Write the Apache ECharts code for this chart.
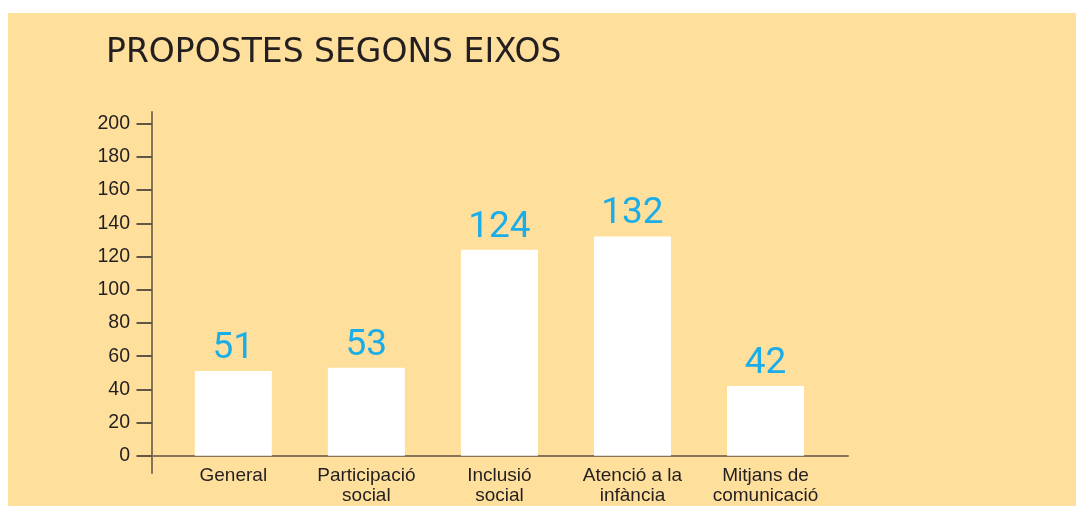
<!DOCTYPE html>
<html>
<head>
<meta charset="utf-8">
<script src="https://cdn.jsdelivr.net/npm/echarts@6/dist/echarts.min.js"></script>
<style>
  html, body { margin: 0; padding: 0; background: #fff; }
  #panel { position: absolute; left: 8px; top: 13px; right: 0; bottom: 0; background: #fedf9c; }
  #chart { position: absolute; left: 0; top: 0; width: 1076px; height: 506px; }
</style>
</head>
<body>
<div id="panel"></div>
<div id="chart"></div>
<script>
const categories = ['General', 'Participació\nsocial', 'Inclusió\nsocial', 'Atenció a la\ninfància', 'Mitjans de\ncomunicació'];
const values = [51, 53, 124, 132, 42];
const yTicks = [0, 20, 40, 60, 80, 100, 120, 140, 160, 180, 200];
const catIndex = categories.map((c, i) => i);

const chart = echarts.init(document.getElementById('chart'), null, { renderer: 'canvas' });

const option = {
  backgroundColor: 'transparent',
  animation: false,
  title: {
    text: 'PROPOSTES SEGONS EIXOS',
    left: 106,
    top: 37,
    padding: 0,
    textStyle: { fontFamily: 'DejaVu Sans', fontSize: 33, fontWeight: 'normal', color: '#231f20' }
  },
  grid: { left: 151.5, top: 112, width: 696.5, height: 361, containLabel: false, outerBoundsMode: 'none' },
  xAxis: {
    type: 'value',
    min: -0.615,
    max: 4.62,
    splitLine: { show: false },
    axisTick: { show: false },
    axisLine: { onZero: true, lineStyle: { color: '#85745a', width: 2 } },
    axisLabel: {
      customValues: catIndex,
      formatter: (v) => categories[Math.round(v)],
      margin: -7.5,
      fontFamily: 'Liberation Sans',
      fontSize: 19,
      lineHeight: 20,
      color: '#231f20',
      align: 'center'
    }
  },
  yAxis: {
    type: 'value',
    min: -10.36,
    max: 207,
    splitLine: { show: false },
    axisLine: { onZero: false, lineStyle: { color: '#85745a', width: 2 } },
    axisTick: { customValues: yTicks, length: 15, lineStyle: { color: '#2e2a26', width: 1.5 } },
    axisLabel: {
      customValues: yTicks,
      margin: 21.5,
      fontFamily: 'Liberation Sans',
      fontSize: 19.5,
      color: '#231f20'
    }
  },
  series: [{
    type: 'bar',
    data: values.map((v, i) => [i, v]),
    barWidth: 77,
    itemStyle: { color: '#ffffff' },
    label: {
      show: true,
      position: 'top',
      distance: 4,
      formatter: (p) => p.value[1],
      fontFamily: 'Roboto',
      fontWeight: 'normal',
      fontSize: 37,
      color: '#1aade8'
    }
  }]
};

chart.setOption(option);
</script>
</body>
</html>
